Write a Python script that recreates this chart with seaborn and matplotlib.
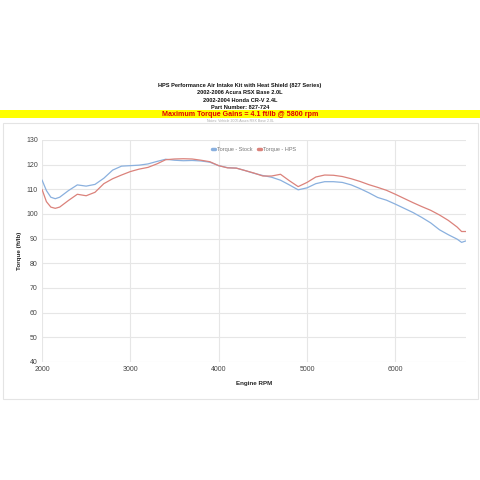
import numpy as np
import pandas as pd
import seaborn as sns
from matplotlib import pyplot as plt
from matplotlib.patches import Rectangle

# datos
rpm = [2000, 2050, 2100, 2150, 2200, 2300, 2400, 2500, 2600, 2700, 2800, 2900,
       3000, 3100, 3200, 3300, 3400, 3500, 3600, 3700, 3800, 3900, 4000, 4100,
       4200, 4300, 4400, 4500, 4600, 4700, 4800, 4900, 5000, 5100, 5200, 5300,
       5400, 5500, 5600, 5700, 5800, 5900, 6000, 6100, 6200, 6300, 6400, 6500,
       6600, 6700, 6750, 6800]

torque_stock = [113.8, 109.5, 106.8, 106.2, 106.8, 109.5, 111.8, 111.3, 112.0, 114.5,
                117.8, 119.4, 119.6, 119.8, 120.3, 121.3, 122.2, 121.8, 121.6, 121.7,
                121.5, 121.0, 119.6, 118.8, 118.6, 117.6, 116.5, 115.6, 114.9, 113.7,
                111.8, 109.8, 110.6, 112.3, 113.1, 113.1, 112.8, 111.8, 110.3, 108.6,
                106.7, 105.6, 104.0, 102.3, 100.6, 98.6, 96.4, 93.6, 91.6, 89.8,
                88.5, 89.1]

torque_hps = [110.0, 105.0, 102.8, 102.3, 102.8, 105.5, 108.0, 107.4, 108.8, 112.3,
              114.3, 115.8, 117.2, 118.2, 118.9, 120.3, 122.0, 122.3, 122.4, 122.3,
              121.8, 121.2, 119.6, 118.7, 118.6, 117.6, 116.6, 115.4, 115.4, 116.1,
              113.5, 111.1, 112.8, 115.0, 115.8, 115.7, 115.2, 114.3, 113.2, 111.9,
              110.8, 109.6, 108.0, 106.3, 104.6, 103.0, 101.5, 99.6, 97.4, 94.7,
              92.9, 92.9]

series_names = ['Torque - Stock', 'Torque - HPS']
series_colors = ['#8ab0de', '#db827b']

title_lines = ['HPS Performance Air Intake Kit with Heat Shield (827 Series)',
               '2002-2006 Acura RSX Base 2.0L',
               '2002-2004 Honda CR-V 2.4L',
               'Part Number: 827-724']
gains_text = 'Maximum Torque Gains = 4.1 ft/lb @ 5800 rpm'
note_text = 'Notes: Vehicle 2005 Acura RSX Base 2.0L'

x_ticks = [2000, 3000, 4000, 5000, 6000]
y_ticks = [40, 50, 60, 70, 80, 90, 100, 110, 120, 130]

#############################################################################
df = pd.DataFrame({'rpm': rpm * 2,
                   'torque': torque_stock + torque_hps,
                   'serie': [series_names[0]] * len(rpm) + [series_names[1]] * len(rpm)})

sns.set_style('white')
plt.rcParams['font.family'] = ['Liberation Sans', 'DejaVu Sans']

fig = plt.figure(figsize=(4.8, 4.8), dpi=100)

# marco gris claro alrededor del grafico
fig.add_artist(Rectangle((3 / 480, 1 - 399 / 480), 475 / 480, 276 / 480,
                         transform=fig.transFigure, fill=False,
                         edgecolor='#e4e4e4', linewidth=0.8))
# franja amarilla
fig.add_artist(Rectangle((0, 1 - 118 / 480), 1, 8.5 / 480,
                         transform=fig.transFigure, facecolor='#ffff00',
                         edgecolor='none'))

ax = fig.add_axes([42 / 480, 1 - 362 / 480, 424 / 480, 222 / 480])
sns.lineplot(data=df, x='rpm', y='torque', hue='serie', hue_order=series_names,
             palette=series_colors, linewidth=0.9, ax=ax)

ax.set_xlim(2000, 6800)
ax.set_ylim(40, 130)
ax.set_xticks(x_ticks)
ax.set_yticks(y_ticks)
ax.grid(True, color='#e6e6e6', linewidth=0.8)
for s in ax.spines.values():
    s.set_visible(False)
ax.tick_params(axis='both', length=0, labelsize=5, labelcolor='#444444', pad=3)
ax.set_xlabel('Engine RPM', fontsize=4.5, fontweight='bold', labelpad=6)
ax.set_ylabel('Torque (ft/lb)', fontsize=4.5, fontweight='bold', labelpad=3)

leg = ax.legend(loc='upper center', bbox_to_anchor=(0.5, 0.99), ncol=2,
                frameon=False, fontsize=4, handlelength=0.5, handletextpad=0.4,
                columnspacing=1.0)
for t in leg.get_texts():
    t.set_color('#777777')
for h in leg.get_lines():
    h.set_linewidth(2.5)

# titulos
ys = [86, 93, 100, 107.5]
for line, y in zip(title_lines, ys):
    fig.text(0.5, 1 - y / 480, line, ha='center', va='center', fontsize=4.1,
             fontweight='bold', color='#111111')
fig.text(0.5, 1 - 114 / 480, gains_text, ha='center', va='center', fontsize=5.1,
         fontweight='bold', color='#e00000')
fig.text(0.5, 1 - 121.5 / 480, note_text, ha='center', va='center', fontsize=2.5,
         color='#aaaaaa')

fig.savefig('out.png', dpi=100)
